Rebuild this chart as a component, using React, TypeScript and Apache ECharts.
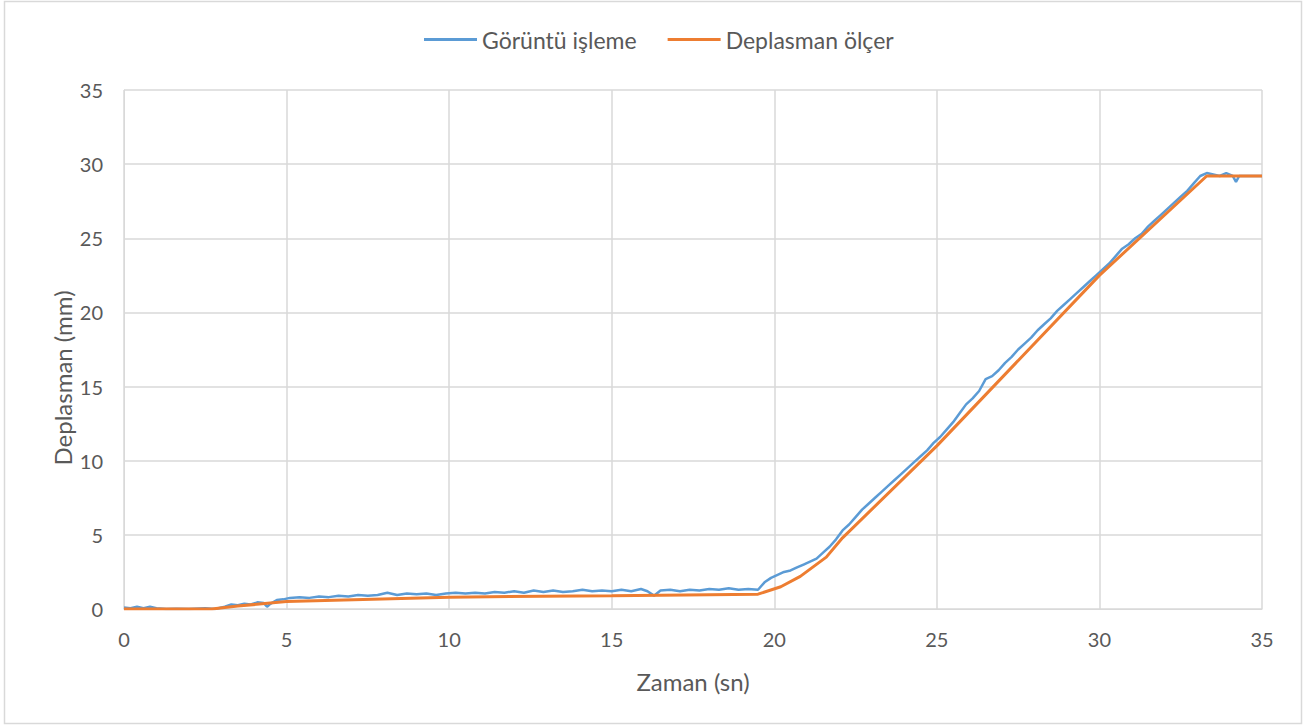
import React, { useEffect, useRef } from "react";
import * as echarts from "echarts";

const seriesNames = ["Görüntü işleme", "Deplasman ölçer"];

const blueT = [0, 0.2, 0.4, 0.6, 0.8, 1.0, 1.3, 1.6, 2.0, 2.5, 2.8, 3.1, 3.3, 3.5, 3.7, 3.9, 4.1, 4.3, 4.4, 4.5, 4.7, 4.9, 5.1, 5.4, 5.7, 6.0, 6.3, 6.6, 6.9, 7.2, 7.5, 7.8, 8.1, 8.4, 8.7, 9.0, 9.3, 9.6, 9.9, 10.2, 10.5, 10.8, 11.1, 11.4, 11.7, 12.0, 12.3, 12.6, 12.9, 13.2, 13.5, 13.8, 14.1, 14.4, 14.7, 15.0, 15.3, 15.6, 15.9, 16.1, 16.3, 16.5, 16.8, 17.1, 17.4, 17.7, 18.0, 18.3, 18.6, 18.9, 19.2, 19.5, 19.7, 19.9, 20.1, 20.3, 20.5, 20.7, 20.9, 21.1, 21.3, 21.5, 21.7, 21.9, 22.1, 22.3, 22.5, 22.7, 22.9, 23.1, 23.3, 23.5, 23.7, 23.9, 24.1, 24.3, 24.5, 24.7, 24.9, 25.1, 25.3, 25.5, 25.7, 25.9, 26.1, 26.3, 26.5, 26.7, 26.9, 27.1, 27.3, 27.5, 27.7, 27.9, 28.1, 28.3, 28.5, 28.7, 28.9, 29.1, 29.3, 29.5, 29.7, 29.9, 30.1, 30.3, 30.5, 30.7, 30.9, 31.1, 31.3, 31.5, 31.7, 31.9, 32.1, 32.3, 32.5, 32.7, 32.9, 33.1, 33.3, 33.5, 33.7, 33.9, 34.1, 34.2, 34.3, 34.6, 35];
const blueY = [0.1, 0.05, 0.15, 0.05, 0.15, 0.05, 0.0, 0.02, 0.0, 0.05, 0.0, 0.15, 0.3, 0.25, 0.35, 0.3, 0.45, 0.4, 0.15, 0.35, 0.6, 0.65, 0.75, 0.8, 0.75, 0.85, 0.8, 0.9, 0.85, 0.95, 0.9, 0.95, 1.1, 0.95, 1.05, 1.0, 1.05, 0.95, 1.05, 1.1, 1.05, 1.1, 1.05, 1.15, 1.1, 1.2, 1.1, 1.25, 1.15, 1.25, 1.15, 1.2, 1.3, 1.2, 1.25, 1.2, 1.3, 1.2, 1.35, 1.2, 0.9, 1.25, 1.3, 1.2, 1.3, 1.25, 1.35, 1.3, 1.4, 1.3, 1.35, 1.3, 1.8, 2.1, 2.3, 2.5, 2.6, 2.8, 3.0, 3.2, 3.4, 3.8, 4.2, 4.7, 5.3, 5.7, 6.2, 6.7, 7.1, 7.5, 7.9, 8.3, 8.7, 9.1, 9.5, 9.9, 10.3, 10.7, 11.2, 11.6, 12.1, 12.6, 13.2, 13.8, 14.2, 14.7, 15.5, 15.7, 16.1, 16.6, 17.0, 17.5, 17.9, 18.3, 18.8, 19.2, 19.6, 20.1, 20.5, 20.9, 21.3, 21.7, 22.1, 22.5, 22.9, 23.3, 23.8, 24.3, 24.6, 25.0, 25.3, 25.8, 26.2, 26.6, 27.0, 27.4, 27.8, 28.2, 28.7, 29.2, 29.4, 29.3, 29.2, 29.4, 29.2, 28.8, 29.2, 29.2, 29.2];

const orangeT = [0, 2.7, 3.5, 5, 10, 15, 19.5, 20.2, 20.8, 21.6, 22.1, 25, 30, 33.3, 35];
const orangeY = [0, 0, 0.2, 0.5, 0.8, 0.9, 1.0, 1.5, 2.2, 3.5, 4.8, 11.0, 22.5, 29.2, 29.2];

const xName = "Zaman (sn)";
const yName = "Deplasman (mm)";

export default function App() {
  const ref = useRef<HTMLDivElement>(null);
  useEffect(() => {
    document.body.style.margin = "0";
    const chart = echarts.init(ref.current!, null, { renderer: "svg" });
    const font = "Lato, 'Open Sans', sans-serif";
    const txt = "#595959";
    chart.setOption({
      animation: false,
      backgroundColor: "#ffffff",
      textStyle: { fontFamily: font },
      graphic: [
        {
          type: "rect",
          shape: { x: 4.5, y: 1.5, width: 1297, height: 722 },
          style: { fill: "none", stroke: "#D9D9D9", lineWidth: 1.5 },
          silent: true,
        },
        {
          type: "text",
          x: 62,
          y: 378,
          rotation: Math.PI / 2,
          style: {
            text: yName,
            fill: txt,
            font: "24px Lato, 'Open Sans', sans-serif",
            textAlign: "center",
            textVerticalAlign: "middle",
          },
        },
      ],
      legend: {
        top: 23,
        left: 419,
        itemWidth: 53,
        itemHeight: 3,
        itemGap: 31,
        icon: "rect",
        textStyle: { fontSize: 23, color: txt, fontFamily: font },
        data: seriesNames,
      },
      grid: { left: 124, right: 43, top: 90, bottom: 119 },
      xAxis: {
        type: "value",
        min: 0,
        max: 35,
        interval: 5,
        name: xName,
        nameLocation: "middle",
        nameGap: 60,
        nameTextStyle: { fontSize: 24, color: txt, fontFamily: font },
        axisLine: { show: true, lineStyle: { color: "#D9D9D9" } },
        axisTick: { show: false },
        axisLabel: { fontSize: 20, color: txt, margin: 20, fontFamily: font },
        splitLine: { show: true, lineStyle: { color: "#D9D9D9", width: 1.5 } },
      },
      yAxis: {
        type: "value",
        min: 0,
        max: 35,
        interval: 5,
        axisLine: { show: true, lineStyle: { color: "#D9D9D9" } },
        axisTick: { show: false },
        axisLabel: { fontSize: 20, color: txt, margin: 21, fontFamily: font },
        splitLine: { show: true, lineStyle: { color: "#D9D9D9", width: 1.5 } },
      },
      series: [
        {
          name: seriesNames[0],
          type: "line",
          showSymbol: false,
          symbol: "none",
          data: blueT.map((t, i) => [t, blueY[i]]),
          lineStyle: { color: "#5B9BD5", width: 2.5 },
          itemStyle: { color: "#5B9BD5" },
        },
        {
          name: seriesNames[1],
          type: "line",
          showSymbol: false,
          symbol: "none",
          data: orangeT.map((t, i) => [t, orangeY[i]]),
          lineStyle: { color: "#ED7D31", width: 3 },
          itemStyle: { color: "#ED7D31" },
        },
      ],
    });
    return () => chart.dispose();
  }, []);
  return <div ref={ref} style={{ width: 1305, height: 728 }} />;
}
